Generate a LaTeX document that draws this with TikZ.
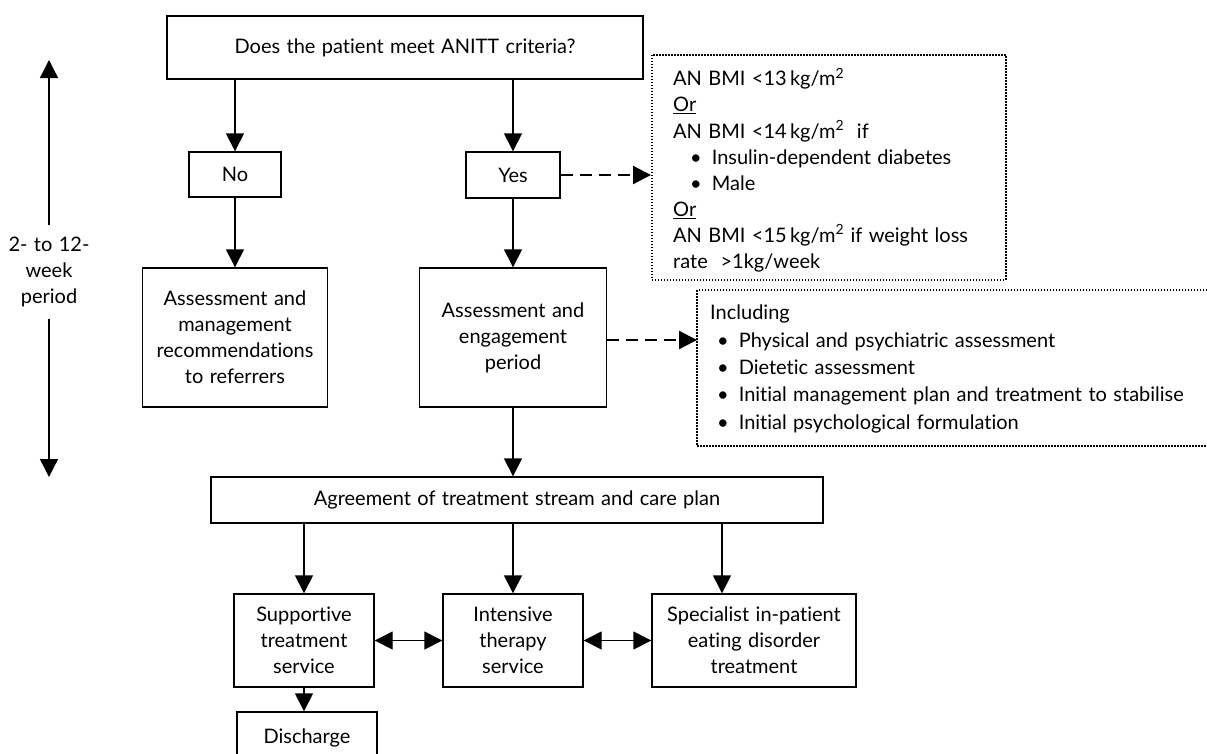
\documentclass[tikz,border=0pt]{standalone}
\usepackage{fontspec}
\setmainfont{Lato}[WordSpace=1.25,Ligatures=NoCommon]
\usetikzlibrary{arrows.meta}
\begin{document}
\begin{tikzpicture}[x=1pt,y=-1pt,
  font=\fontsize{20}{26}\selectfont,
  box/.style={draw,line width=1.4pt,align=center,inner sep=0pt},
  arr/.style={line width=1.4pt,-{Triangle[length=18pt,width=18pt]}},
  darr/.style={line width=1.4pt,{Triangle[length=18pt,width=18pt]}-{Triangle[length=18pt,width=18pt]}},
  dasharr/.style={line width=2.2pt,dash pattern=on 12pt off 7pt,-{Triangle[length=18pt,width=18pt]}},
  dotbox/.style={draw,line width=1.9pt,dash pattern=on 1.5pt off 1.5pt},
  plain/.style={align=left,inner sep=0pt,anchor=north west}]
\clip (0,0) rectangle (1207,753);
\fill[white] (0,0) rectangle (1207,753);

% main boxes
\node[box,line width=1.7pt,minimum width=476,minimum height=63] (q) at (405,47.5) {Does the patient meet ANITT criteria?};
\node[box,minimum width=92,minimum height=45] (no) at (235,174.5) {No};
\node[box,minimum width=94,minimum height=46] (yes) at (513,175) {Yes};
\node[box,minimum width=185,minimum height=139] (amr) at (235,337.5) {Assessment and\\management\\recommendations\\to referrers};
\node[box,minimum width=187,minimum height=139] (aep) at (513,337.5) {Assessment and\\engagement\\period};
\node[box,minimum width=612,minimum height=46] (agr) at (517,500) {Agreement of treatment stream and care plan};
\node[box,minimum width=140,minimum height=93] (sup) at (304,640.5) {Supportive\\treatment\\service};
\node[box,minimum width=140,minimum height=93] (int) at (513,640.5) {Intensive\\therapy\\service};
\node[box,minimum width=204,minimum height=93] (spe) at (754,640.5) {Specialist in-patient\\eating disorder\\treatment};
\node[box,minimum width=140,minimum height=52] (dis) at (307,738) {Discharge};
\coordinate (speIn) at (722,594);

% connectors
\draw[arr] (q.south -| no) -- (no.north);
\draw[arr] (q.south -| yes) -- (yes.north);
\draw[arr] (no.south) -- (no.south |- amr.north);
\draw[arr] (yes.south) -- (yes.south |- aep.north);
\draw[arr] (aep.south) -- (aep.south |- agr.north);
\draw[arr] (agr.south -| sup) -- (sup.north);
\draw[arr] (agr.south -| int) -- (int.north);
\draw[arr] (agr.south -| speIn) -- (speIn |- spe.north);
\draw[arr] (sup.south) -- (sup.south |- dis.north);
\draw[darr] (sup.east) -- (int.west);
\draw[darr] (int.east) -- (spe.west);

% criteria box
\node[dotbox,minimum width=354,minimum height=225,anchor=north west,inner sep=0pt] (crit) at (651,54) {};
\node[plain,font=\fontsize{20}{26.1}\selectfont] (crittext) at (673,68) {AN BMI <13\,kg/m\textsuperscript{2}\\
\underline{Or}\\
AN BMI <14\,kg/m\textsuperscript{2}\ \ if\\
\hspace*{17pt}\textbullet\hspace{10pt}Insulin-dependent diabetes\\
\hspace*{17pt}\textbullet\hspace{10pt}Male\\
\underline{Or}\\
AN BMI <15\,kg/m\textsuperscript{2} if weight loss\\
rate\ \ >1kg/week};
\draw[dasharr] (yes.east) -- (yes.east -| crit.west);

% including box (open to the right)
\draw[dotbox] (1210,290) -- (697,290) -- (697,446) -- (1210,446);
\coordinate (incl) at (697,340);
\node[plain,font=\fontsize{20}{27.3}\selectfont] (incltext) at (710,305) {Including\\
\hspace*{7pt}\textbullet\hspace{10pt}Physical and psychiatric assessment\\
\hspace*{7pt}\textbullet\hspace{10pt}Dietetic assessment\\
\hspace*{7pt}\textbullet\hspace{10pt}Initial management plan and treatment to stabilise\\
\hspace*{7pt}\textbullet\hspace{10pt}Initial psychological formulation};
\draw[dasharr] (aep.east |- incl) -- (incl);

% period arrow
\coordinate (ttop) at (49,60);
\coordinate (tbot) at (49,477);
\node[align=center,inner sep=0pt,minimum height=93] (per) at (49,272) {2- to 12-\\week\\period};
\draw[arr] (per.north) -- (ttop);
\draw[arr] (per.south) -- (tbot);
\end{tikzpicture}
\end{document}
